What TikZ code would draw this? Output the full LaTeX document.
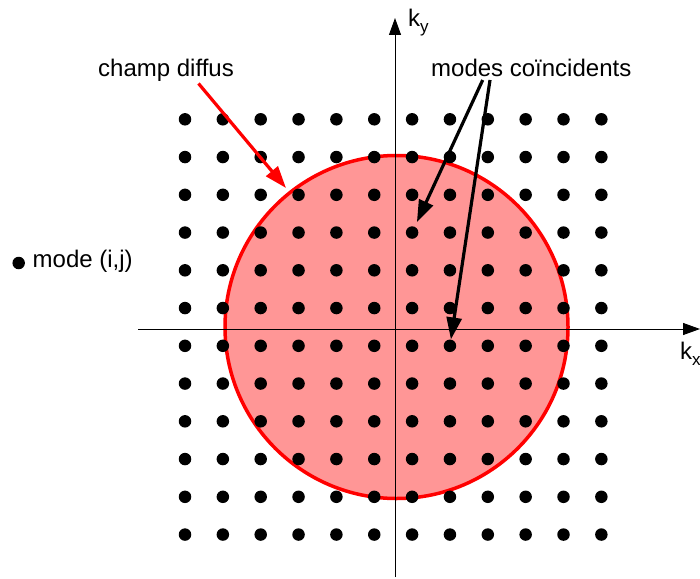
\documentclass[tikz,border=0pt]{standalone}
\usepackage{fontspec}
\setmainfont{Liberation Sans}
\usetikzlibrary{arrows.meta}
\definecolor{fieldfill}{RGB}{255,150,150}
\definecolor{fieldred}{RGB}{255,0,0}
\begin{document}
\begin{tikzpicture}[x=1pt,y=-1pt,
  dot/.style={circle,fill=black,inner sep=0pt,minimum size=12.5pt},
  lbl/.style={anchor=base west,inner sep=0pt,font=\fontsize{24}{28}\selectfont},
  axis/.style={line width=1pt,-{Triangle[length=17pt,width=12pt]}},
  pointer/.style={line width=3.2pt,-{Triangle[length=22pt,width=15pt]}},
  redpointer/.style={pointer,draw=fieldred,fill=fieldred}]
\useasboundingbox (0,0) rectangle (700,578);
% diffuse field disc
\node[circle,draw=fieldred,fill=fieldfill,line width=3.5pt,minimum size=343pt,inner sep=0pt] (field) at (396.5,327) {};
% axes
\coordinate (xstart) at (138,329);
\coordinate (xend) at (700,329);
\coordinate (ystart) at (395,577);
\coordinate (yend) at (395,18);
\draw[axis] (xstart) -- (xend);
\draw[axis] (ystart) -- (yend);
% mode grid
\foreach \i in {0,...,11}
  \foreach \j in {0,...,11}
    \node[dot] (d-\i-\j) at ({185+37.85*\i},{119.3+37.75*\j}) {};
% labels
\node[lbl] (ky) at (408,26.5) {k\raisebox{-6pt}{\fontsize{17}{17}\selectfont y}};
\node[lbl] (kx) at (680,359) {k\raisebox{-6pt}{\fontsize{17}{17}\selectfont x}};
\node[lbl] (champ) at (98,76) {champ diffus};
\node[lbl] (modes) at (431,76) {modes coïncidents};
\node[dot] (legenddot) at (18.7,263) {};
\node[lbl] (legend) at (32.5,267.5) {mode (i,j)};
% pointers
\coordinate (champstart) at (198.5,83.5);
\coordinate (champtip) at (286,188);
\draw[redpointer] (champstart) -- (champtip);
\coordinate (modesA) at (482.7,80);
\coordinate (modesB) at (490,80);
\draw[pointer,shorten >=5pt] (modesA) -- (d-6-3);
\draw[pointer] (modesB) -- (d-7-6);
\end{tikzpicture}
\end{document}
